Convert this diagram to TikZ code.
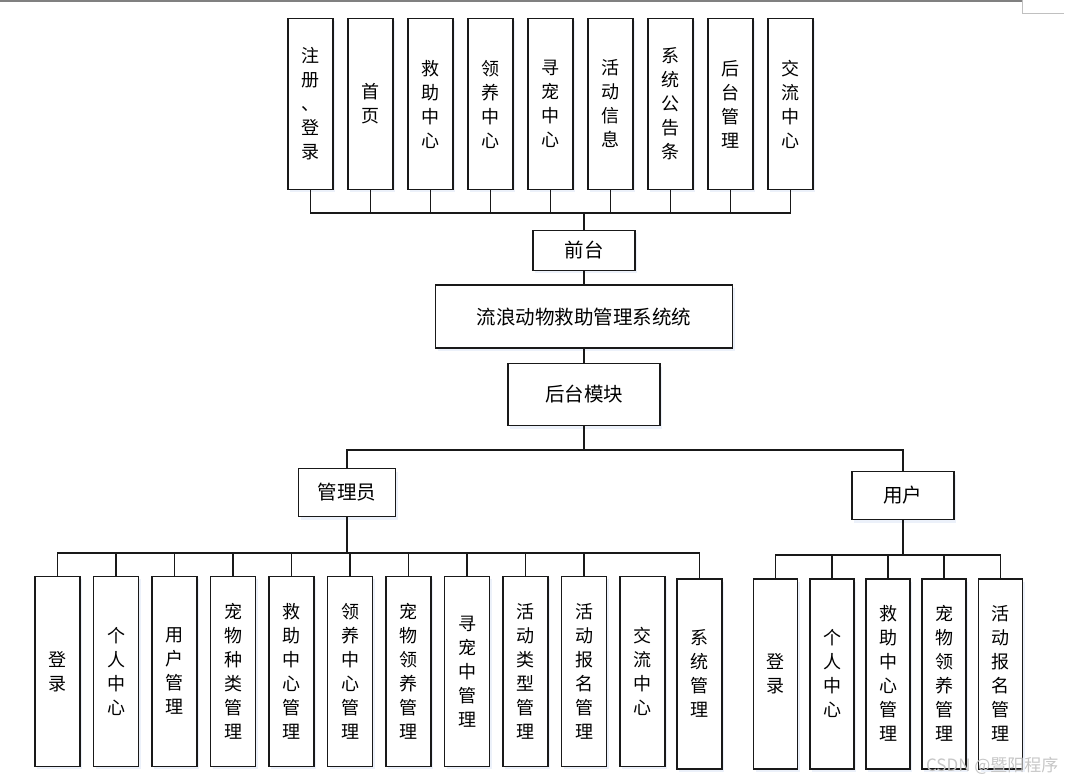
\documentclass[tikz,border=0pt]{standalone}
\usepackage{fontspec}
\setmainfont{Noto Sans CJK SC}
\usetikzlibrary{shadows}
\definecolor{lineColor}{RGB}{25, 25, 25}
\definecolor{cShadow}{RGB}{150, 180, 230}
\definecolor{cEdge}{RGB}{128, 128, 128}
\tikzset{
    % --- 方框基础 ---
    boxBase/.style={
        rectangle, draw=lineColor, line width=1.7pt, fill=white,
        inner sep=0pt, align=center,
        drop shadow={opacity=0.18, fill=cShadow, shadow xshift=2pt, shadow yshift=-3pt}
    },
    % --- 竖排模块 ---
    vTop/.style={
        boxBase, minimum width=45pt, minimum height=171pt,
        font=\fontsize{18}{24}\selectfont
    },
    vBot/.style={
        boxBase, minimum width=45pt, minimum height=190pt,
        font=\fontsize{18}{24}\selectfont
    },
    % --- 横排模块 ---
    hBox/.style={
        boxBase, font=\fontsize{19.5}{24}\selectfont
    },
    % --- 连线 ---
    conn/.style={
        draw=lineColor, line width=1.7pt
    }
}

\begin{document}
\begin{tikzpicture}[x=1pt, y=-1pt]

	\useasboundingbox (0, 0) rectangle (1067, 783);

	% 页面边缘
	\draw[cEdge, line width=1.6pt] (0, 0.8) -- (1022, 0.8);
	\draw[cEdge!50, line width=0.8pt] (1022, 0) -- (1022, 13) -- (1064, 13);

	% =========================================
	% 1. 前台功能
	% =========================================
	\node[vTop] (t1) at (310.5, 104) {注\\册\\、\\登\\录};
	\node[vTop] (t2) at (370.5, 104) {首\\页};
	\node[vTop] (t3) at (430.5, 104) {救\\助\\中\\心};
	\node[vTop] (t4) at (490.5, 104) {领\\养\\中\\心};
	\node[vTop] (t5) at (550.5, 104) {寻\\宠\\中\\心};
	\node[vTop] (t6) at (610.5, 104) {活\\动\\信\\息};
	\node[vTop] (t7) at (670.5, 104) {系\\统\\公\\告\\条};
	\node[vTop] (t8) at (730.5, 104) {后\\台\\管\\理};
	\node[vTop] (t9) at (790.5, 104) {交\\流\\中\\心};

	\node[hBox, minimum width=102pt, minimum height=40pt] (front) at (584, 250.5) {前台};
	\node[hBox, minimum width=297pt, minimum height=63pt] (sys) at (584, 316.7) {流浪动物救助管理系统统};
	\node[hBox, minimum width=152pt, minimum height=62pt] (back) at (584, 394.5) {后台模块};

	\coordinate (busTop) at (584, 212.7);
	\draw[conn] (t1.south) |- (busTop) -| (t9.south);
	\draw[conn] (t2.south) -- (t2.south |- busTop);
	\draw[conn] (t3.south) -- (t3.south |- busTop);
	\draw[conn] (t4.south) -- (t4.south |- busTop);
	\draw[conn] (t5.south) -- (t5.south |- busTop);
	\draw[conn] (t6.south) -- (t6.south |- busTop);
	\draw[conn] (t7.south) -- (t7.south |- busTop);
	\draw[conn] (t8.south) -- (t8.south |- busTop);
	\draw[conn] (busTop) -- (front.north);
	\draw[conn] (front.south) -- (sys.north);
	\draw[conn] (sys.south) -- (back.north);

	% =========================================
	% 2. 角色
	% =========================================
	\node[hBox, minimum width=97pt, minimum height=48pt] (admin) at (347, 492.5) {管理员};
	\node[hBox, minimum width=102pt, minimum height=48pt] (user) at (902.7, 495.5) {用户};

	\coordinate (busMid) at (584, 450);
	\draw[conn] (back.south) -- (busMid);
	\draw[conn] (admin.north) |- (busMid) -| (user.north);

	% --- 管理员功能 ---
	\node[vBot] (a1) at (57.5, 671.4) {登\\录};
	\node[vBot] (a2) at (116, 671.4) {个\\人\\中\\心};
	\node[vBot] (a3) at (174.5, 671.4) {用\\户\\管\\理};
	\node[vBot] (a4) at (233, 671.4) {宠\\物\\种\\类\\管\\理};
	\node[vBot] (a5) at (291.5, 671.4) {救\\助\\中\\心\\管\\理};
	\node[vBot] (a6) at (350, 671.4) {领\\养\\中\\心\\管\\理};
	\node[vBot] (a7) at (408.5, 671.4) {宠\\物\\领\\养\\管\\理};
	\node[vBot] (a8) at (467, 671.4) {寻\\宠\\中\\管\\理};
	\node[vBot] (a9) at (525.5, 671.4) {活\\动\\类\\型\\管\\理};
	\node[vBot] (a10) at (584, 671.4) {活\\动\\报\\名\\管\\理};
	\node[vBot] (a11) at (642.5, 671.4) {交\\流\\中\\心};
	\node[vBot] (a12) at (699.5, 673.8) {系\\统\\管\\理};

	\coordinate (busAdm) at (347, 552.7);
	\draw[conn] (admin.south) -- (busAdm);
	\draw[conn] (a1.north) |- (busAdm) -| (a12.north);
	\draw[conn] (a2.north) -- (a2.north |- busAdm);
	\draw[conn] (a3.north) -- (a3.north |- busAdm);
	\draw[conn] (a4.north) -- (a4.north |- busAdm);
	\draw[conn] (a5.north) -- (a5.north |- busAdm);
	\draw[conn] (a6.north) -- (a6.north |- busAdm);
	\draw[conn] (a7.north) -- (a7.north |- busAdm);
	\draw[conn] (a8.north) -- (a8.north |- busAdm);
	\draw[conn] (a9.north) -- (a9.north |- busAdm);
	\draw[conn] (a10.north) -- (a10.north |- busAdm);

	% --- 用户功能 ---
	\node[vBot, minimum width=44pt] (u1) at (775.5, 673.7) {登\\录};
	\node[vBot, minimum width=44pt] (u2) at (832, 673.7) {个\\人\\中\\心};
	\node[vBot, minimum width=44pt] (u3) at (888, 673.7) {救\\助\\中\\心\\管\\理};
	\node[vBot, minimum width=44pt] (u4) at (944, 673.7) {宠\\物\\领\\养\\管\\理};
	\node[vBot, minimum width=44pt] (u5) at (1000.5, 673.7) {活\\动\\报\\名\\管\\理};

	\coordinate (busUsr) at (902.7, 555);
	\draw[conn] (user.south) -- (busUsr);
	\draw[conn] (u1.north) |- (busUsr) -| (u5.north);
	\draw[conn] (u2.north) -- (u2.north |- busUsr);
	\draw[conn] (u3.north) -- (u3.north |- busUsr);
	\draw[conn] (u4.north) -- (u4.north |- busUsr);

	% 水印
	\node[text=gray!45, font=\fontsize{17}{20}\selectfont, anchor=east] (mark) at (1062, 766) {CSDN @暨阳程序};

\end{tikzpicture}
\end{document}
